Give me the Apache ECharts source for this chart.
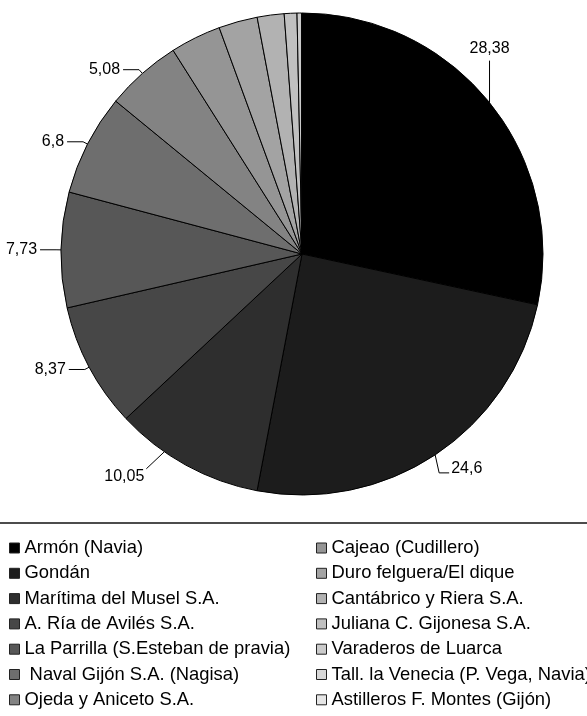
<!DOCTYPE html>
<html>
<head>
<meta charset="utf-8">
<script src="https://cdn.jsdelivr.net/npm/echarts@6/dist/echarts.min.js"></script>
<style>
html,body{margin:0;padding:0;background:#fff;}
#chart{width:587px;height:716px;}
</style>
</head>
<body>
<div id="chart"></div>
<script>
const categories = [
  "Armón (Navia)", "Gondán", "Marítima del Musel S.A.", "A. Ría de Avilés S.A.",
  "La Parrilla (S.Esteban de pravia)", " Naval Gijón S.A. (Nagisa)", "Ojeda y Aniceto S.A.",
  "Cajeao (Cudillero)", "Duro felguera/El dique", "Cantábrico y Riera S.A.",
  "Juliana C. Gijonesa S.A.", "Varaderos de Luarca", "Tall. la Venecia (P. Vega, Navia)",
  "Astilleros F. Montes (Gijón)"
];
const values = [28.38, 24.6, 10.05, 8.37, 7.73, 6.8, 5.08, 3.4, 2.6, 1.8, 0.85, 0.3, 0.02, 0.01];
const valueLabels = ["28,38", "24,6", "10,05", "8,37", "7,73", "6,8", "5,08"];
const colors = ["#000000", "#1c1c1c", "#2e2e2e", "#474747", "#575757", "#6e6e6e", "#838383",
  "#959595", "#a3a3a3", "#b2b2b2", "#c0c0c0", "#cbcbcb", "#d8d8d8", "#e6e6e6"];

const FONT = "'Liberation Sans', Arial, Helvetica, sans-serif";
const CENTER = [302, 254];
const RADIUS = 241;
const chart = echarts.init(document.getElementById('chart'), null, {renderer: 'canvas'});

const data = categories.map((name, i) => {
  const labeled = i < valueLabels.length;
  return {
    name: name,
    value: values[i],
    itemStyle: {color: colors[i]},
    label: {show: labeled, formatter: labeled ? valueLabels[i] : ''},
    labelLine: {show: labeled}
  };
});

const leftNames = categories.slice(0, 7);
const rightNames = categories.slice(7);

const legendCommon = {
  orient: 'vertical',
  top: 538,
  padding: 0,
  height: 178,
  itemWidth: 10,
  itemHeight: 10,
  itemGap: 5.3,
  icon: 'rect',
  itemStyle: {borderColor: '#222', borderWidth: 1},
  textStyle: {fontFamily: FONT, fontSize: 18.4, color: '#000', lineHeight: 20},
  selectedMode: false
};

function rotateOnArc(p0, deg) {
  const a = Math.atan2(p0[1] - CENTER[1], p0[0] - CENTER[0]) + deg * Math.PI / 180;
  return [CENTER[0] + RADIUS * Math.cos(a), CENTER[1] + RADIUS * Math.sin(a)];
}

chart.setOption({
  animation: false,
  color: colors,
  legend: [
    Object.assign({}, legendCommon, {left: 9, data: leftNames}),
    Object.assign({}, legendCommon, {left: 316, data: rightNames})
  ],
  graphic: [{
    type: 'line',
    shape: {x1: 0, y1: 523, x2: 587, y2: 523},
    style: {stroke: '#111', lineWidth: 1.5}
  }],
  series: [{
    type: 'pie',
    center: CENTER,
    radius: RADIUS,
    startAngle: 90,
    clockwise: true,
    avoidLabelOverlap: false,
    emphasis: {disabled: true},
    itemStyle: {borderColor: '#000', borderWidth: 1},
    label: {
      show: true,
      position: 'outside',
      fontFamily: FONT,
      fontSize: 16,
      color: '#000',
      distanceToLabelLine: 3
    },
    labelLine: {
      show: true,
      length: 5,
      length2: 16,
      lineStyle: {color: '#000', width: 1}
    },
    labelLayout: function (p) {
      if (!p.labelLinePoints) return;
      const p0 = p.labelLinePoints[0];
      if (p.dataIndex === 0) {
        const top = [p0[0], p0[1] - 42];
        return {
          x: p0[0], y: p0[1] - 46,
          align: 'center', verticalAlign: 'bottom',
          labelLinePoints: [p0, top, top]
        };
      }
      if (p.dataIndex === 1) {
        const mid = [p0[0] + 4, p0[1] + 18];
        const end = [p0[0] + 14, p0[1] + 18];
        return {
          x: end[0] + 2, y: end[1] - 4,
          align: 'left', verticalAlign: 'middle',
          labelLinePoints: [p0, mid, end]
        };
      }
      if (p.dataIndex === 2) {
        const s = rotateOnArc(p0, 6);
        const end = [s[0] - 18, s[1] + 17];
        return {
          x: end[0] - 2, y: end[1] + 8,
          align: 'right', verticalAlign: 'middle',
          labelLinePoints: [s, end, end]
        };
      }
    },
    data: data
  }]
});
</script>
</body>
</html>
